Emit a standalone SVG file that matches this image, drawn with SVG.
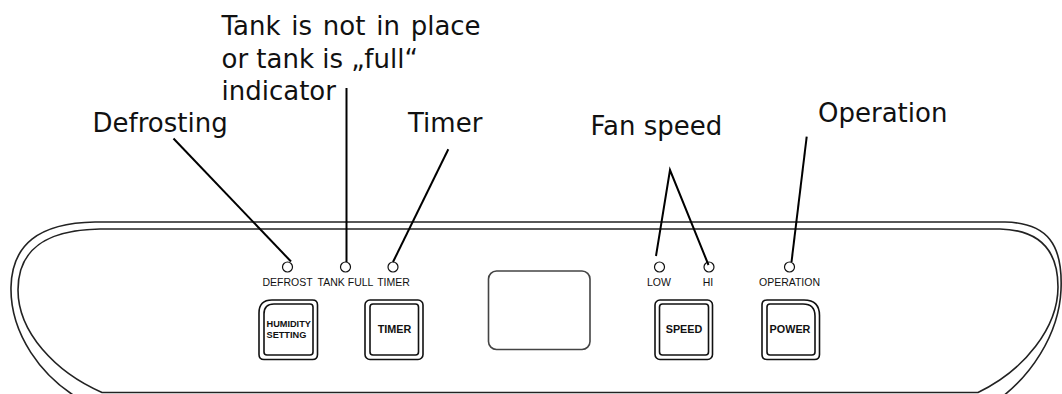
<svg xmlns="http://www.w3.org/2000/svg" width="1062" height="394" viewBox="0 0 1062 394">
<style>
.panel{fill:none;stroke:#222;stroke-width:1.6}
.led{fill:#fff;stroke:#111;stroke-width:1.2}
.lbl{font-family:"Liberation Sans",Arial,sans-serif;font-size:10.5px;fill:#111;text-anchor:middle}
.btn{fill:#fff;stroke:#111;stroke-width:1.6}
.btxt{font-family:"Liberation Sans",Arial,sans-serif;font-weight:bold;fill:#111}
.call{font-family:"DejaVu Sans",Verdana,sans-serif;font-size:26px;fill:#111}
.lead{stroke:#000;stroke-width:2;fill:none}
</style>
<rect width="1062" height="394" fill="#fff"/>
<g id="panel">
<path class="panel" d="M 95 222 L 1005 222 C 1048 223 1063 245 1061 290 C 1059 335 1030 378 995 402 L 85 402 C 40 378 10 332 11 287 C 12 245 38 223 95 222 Z"/>
<path class="panel" d="M 100 229 L 1000 229 C 1040 230 1058 250 1058 287 C 1058 327 1025 370 978 392.5 L 102 392.5 C 55 372 18 332 18 290 C 18 252 42 230 100 229 Z"/>
</g>
<g id="display">
<rect x="488.5" y="271" width="101.5" height="78.5" rx="8" fill="#fff" stroke="#444" stroke-width="1.6"/>
</g>
<g id="leds">
<circle class="led" cx="287.5" cy="267" r="5"/>
<circle class="led" cx="345.5" cy="267" r="5"/>
<circle class="led" cx="393" cy="267" r="5"/>
<circle class="led" cx="659.5" cy="267" r="5"/>
<circle class="led" cx="709" cy="267" r="5"/>
<circle class="led" cx="789.5" cy="267" r="5"/>
<text class="lbl" x="287.5" y="286">DEFROST</text>
<text class="lbl" x="345.5" y="286">TANK FULL</text>
<text class="lbl" x="393.5" y="286">TIMER</text>
<text class="lbl" x="659" y="286">LOW</text>
<text class="lbl" x="708" y="286">HI</text>
<text class="lbl" x="789.5" y="286">OPERATION</text>
</g>
<g id="btn-humidity">
<path class="btn" d="M 272 300 L 312.5 300 Q 317.5 300 317.5 305 L 317.5 354.5 Q 317.5 359.5 312.5 359.5 L 264 359.5 Q 259 359.5 259 354.5 L 259 313 Q 259 300 272 300 Z"/>
<path class="btn" d="M 274 304 L 310 304 Q 313 304 313 307 L 313 352 Q 313 355 310 355 L 267 355 Q 264 355 264 352 L 264 314 Q 264 304 274 304 Z"/>
<text class="btxt" font-size="9.2" x="266.5" y="326.7">HUMIDITY</text>
<text class="btxt" font-size="9.2" x="266.5" y="337.7">SETTING</text>
</g>
<g id="btn-timer">
<rect class="btn" x="365" y="300" width="58" height="59.5" rx="5"/>
<rect class="btn" x="370" y="304" width="48.5" height="51" rx="3"/>
<text class="btxt" font-size="10.8" x="394.5" y="333.3" text-anchor="middle">TIMER</text>
</g>
<g id="btn-speed">
<rect class="btn" x="655" y="300" width="57.5" height="59.5" rx="5"/>
<rect class="btn" x="659.5" y="304" width="49" height="51" rx="3"/>
<text class="btxt" font-size="10.8" x="684" y="333.3" text-anchor="middle">SPEED</text>
</g>
<g id="btn-power">
<path class="btn" d="M 767 300 L 804 300 Q 819.5 300 819.5 315.5 L 819.5 354.5 Q 819.5 359.5 814.5 359.5 L 767 359.5 Q 762 359.5 762 354.5 L 762 305 Q 762 300 767 300 Z"/>
<path class="btn" d="M 770 304 L 803 304 Q 815 304 815 316 L 815 352 Q 815 355 812 355 L 770 355 Q 767 355 767 352 L 767 307 Q 767 304 770 304 Z"/>
<text class="btxt" font-size="10.8" x="790" y="333.3" text-anchor="middle">POWER</text>
</g>
<g id="callouts">
<text class="call" x="92.5" y="131.7">Defrosting</text>
<text class="call" x="221.5" y="35" word-spacing="2.5">Tank is not in place</text>
<text class="call" x="221.5" y="67.5">or tank is „full“</text>
<text class="call" x="221.5" y="100">indicator</text>
<text class="call" x="408" y="131.7">Timer</text>
<text class="call" x="590.5" y="135">Fan speed</text>
<text class="call" x="818" y="121.7">Operation</text>
</g>
<g id="connectors">
<line class="lead" x1="173.5" y1="138.5" x2="291" y2="261.5"/>
<line class="lead" x1="346.5" y1="88" x2="346.5" y2="262"/>
<line class="lead" x1="448.3" y1="149.3" x2="393" y2="262"/>
<polyline class="lead" points="656,256 670,170 708.5,265"/>
<line class="lead" x1="806.7" y1="136.7" x2="791.5" y2="262"/>
</g>
</svg>
